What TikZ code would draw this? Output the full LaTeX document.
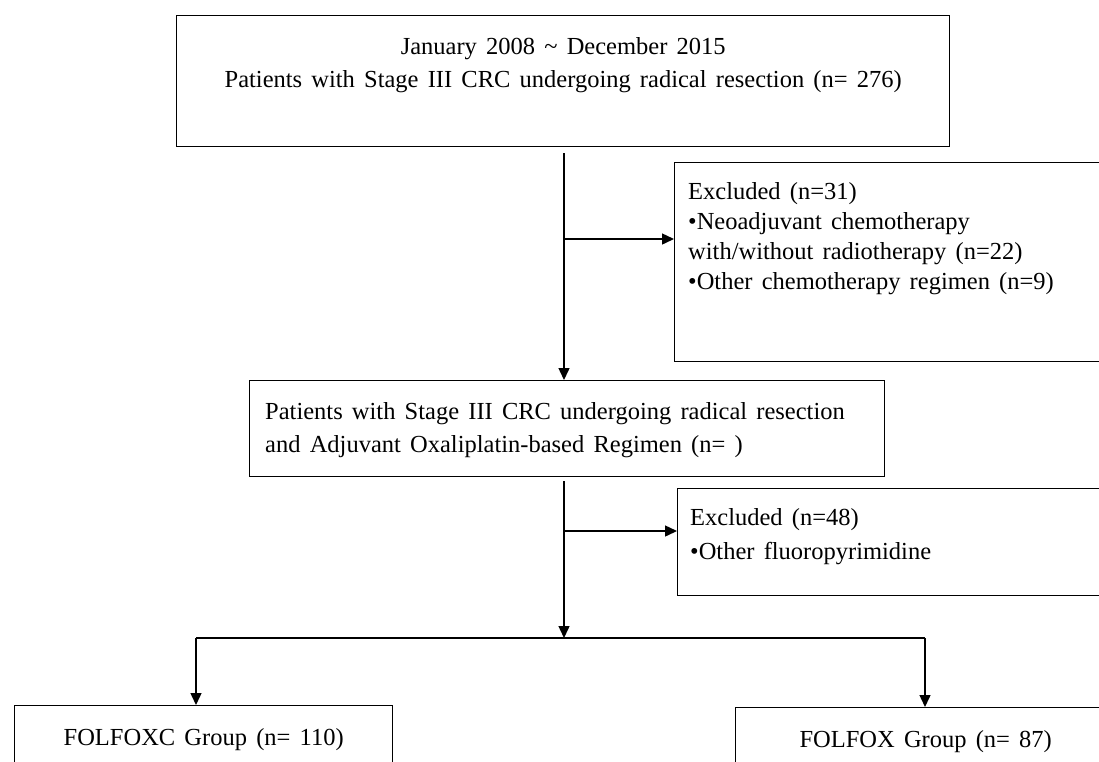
\documentclass[tikz,border=0pt]{standalone}
\usepackage{fontspec}
\setmainfont[WordSpace=1.5]{Liberation Serif}
\usetikzlibrary{arrows.meta,positioning}
\begin{document}
\begin{tikzpicture}[x=1pt,y=-1pt,
    frame/.style={draw,line width=1.4pt,anchor=north west,inner sep=0pt},
    txt/.style={inner sep=0pt,font=\fontsize{24.5}{33}\selectfont},
    link/.style={line width=1.4pt},
    arr/.style={line width=1.4pt,-{Triangle[length=12pt,width=11pt]}}]
  \useasboundingbox (0,0) rectangle (1099,761);
  \clip (0,0) rectangle (1099,761);
  \node[frame,minimum width=773pt,minimum height=131pt] (start) at (176,15) {};
  \node[frame,minimum width=450pt,minimum height=199pt] (excl1) at (674,162) {};
  \node[frame,minimum width=635pt,minimum height=96pt] (adj) at (249,380) {};
  \node[frame,minimum width=450pt,minimum height=107pt] (excl2) at (677,488) {};
  \node[frame,minimum width=378pt,minimum height=100pt] (folfoxc) at (14,705) {};
  \node[frame,minimum width=380pt,minimum height=100pt] (folfox) at (735,707) {};
  \node[txt,align=center,below=22pt of start.north] (starttext)
    {January 2008 \textasciitilde{} December 2015\\
     Patients with Stage III CRC undergoing radical resection (n= 276)};
  \node[txt,align=left,anchor=north west,font=\fontsize{24.5}{30}\selectfont]
    (excl1text) at ([xshift=14pt,yshift=-20pt]excl1.north west)
    {Excluded (n=31)\\
     \textbullet Neoadjuvant chemotherapy\\
     with/without radiotherapy (n=22)\\
     \textbullet Other chemotherapy regimen (n=9)};
  \node[txt,align=left,anchor=north west] (adjtext)
    at ([xshift=16pt,yshift=-22pt]adj.north west)
    {Patients with Stage III CRC undergoing radical resection\\
     and Adjuvant Oxaliplatin-based Regimen (n= )};
  \node[txt,align=left,anchor=north west,font=\fontsize{24.5}{34}\selectfont]
    (excl2text) at ([xshift=13pt,yshift=-20pt]excl2.north west)
    {Excluded (n=48)\\
     \textbullet Other fluoropyrimidine};
  \node[txt,below=23pt of folfoxc.north] (folfoxctext) {FOLFOXC Group (n= 110)};
  \node[txt,below=23pt of folfox.north] (folfoxtext) {FOLFOX Group (n= 87)};
  \coordinate (b1) at (564,239);
  \coordinate (b2) at (564,531);
  \coordinate (sl) at (196,638);
  \coordinate (sr) at (925,638);
  \draw[arr] ([yshift=-6pt]start.south -| b1) -- (b1 |- adj.north);
  \draw[arr] (b1) -- (b1 -| excl1.west);
  \draw[arr] ([yshift=-4pt]adj.south -| b2) -- (b2 |- sl);
  \draw[arr] (b2) -- (b2 -| excl2.west);
  \draw[link] (sl) -- (sr);
  \draw[arr] (sl) -- (sl |- folfoxc.north);
  \draw[arr] (sr) -- (sr |- folfox.north);
\end{tikzpicture}
\end{document}
